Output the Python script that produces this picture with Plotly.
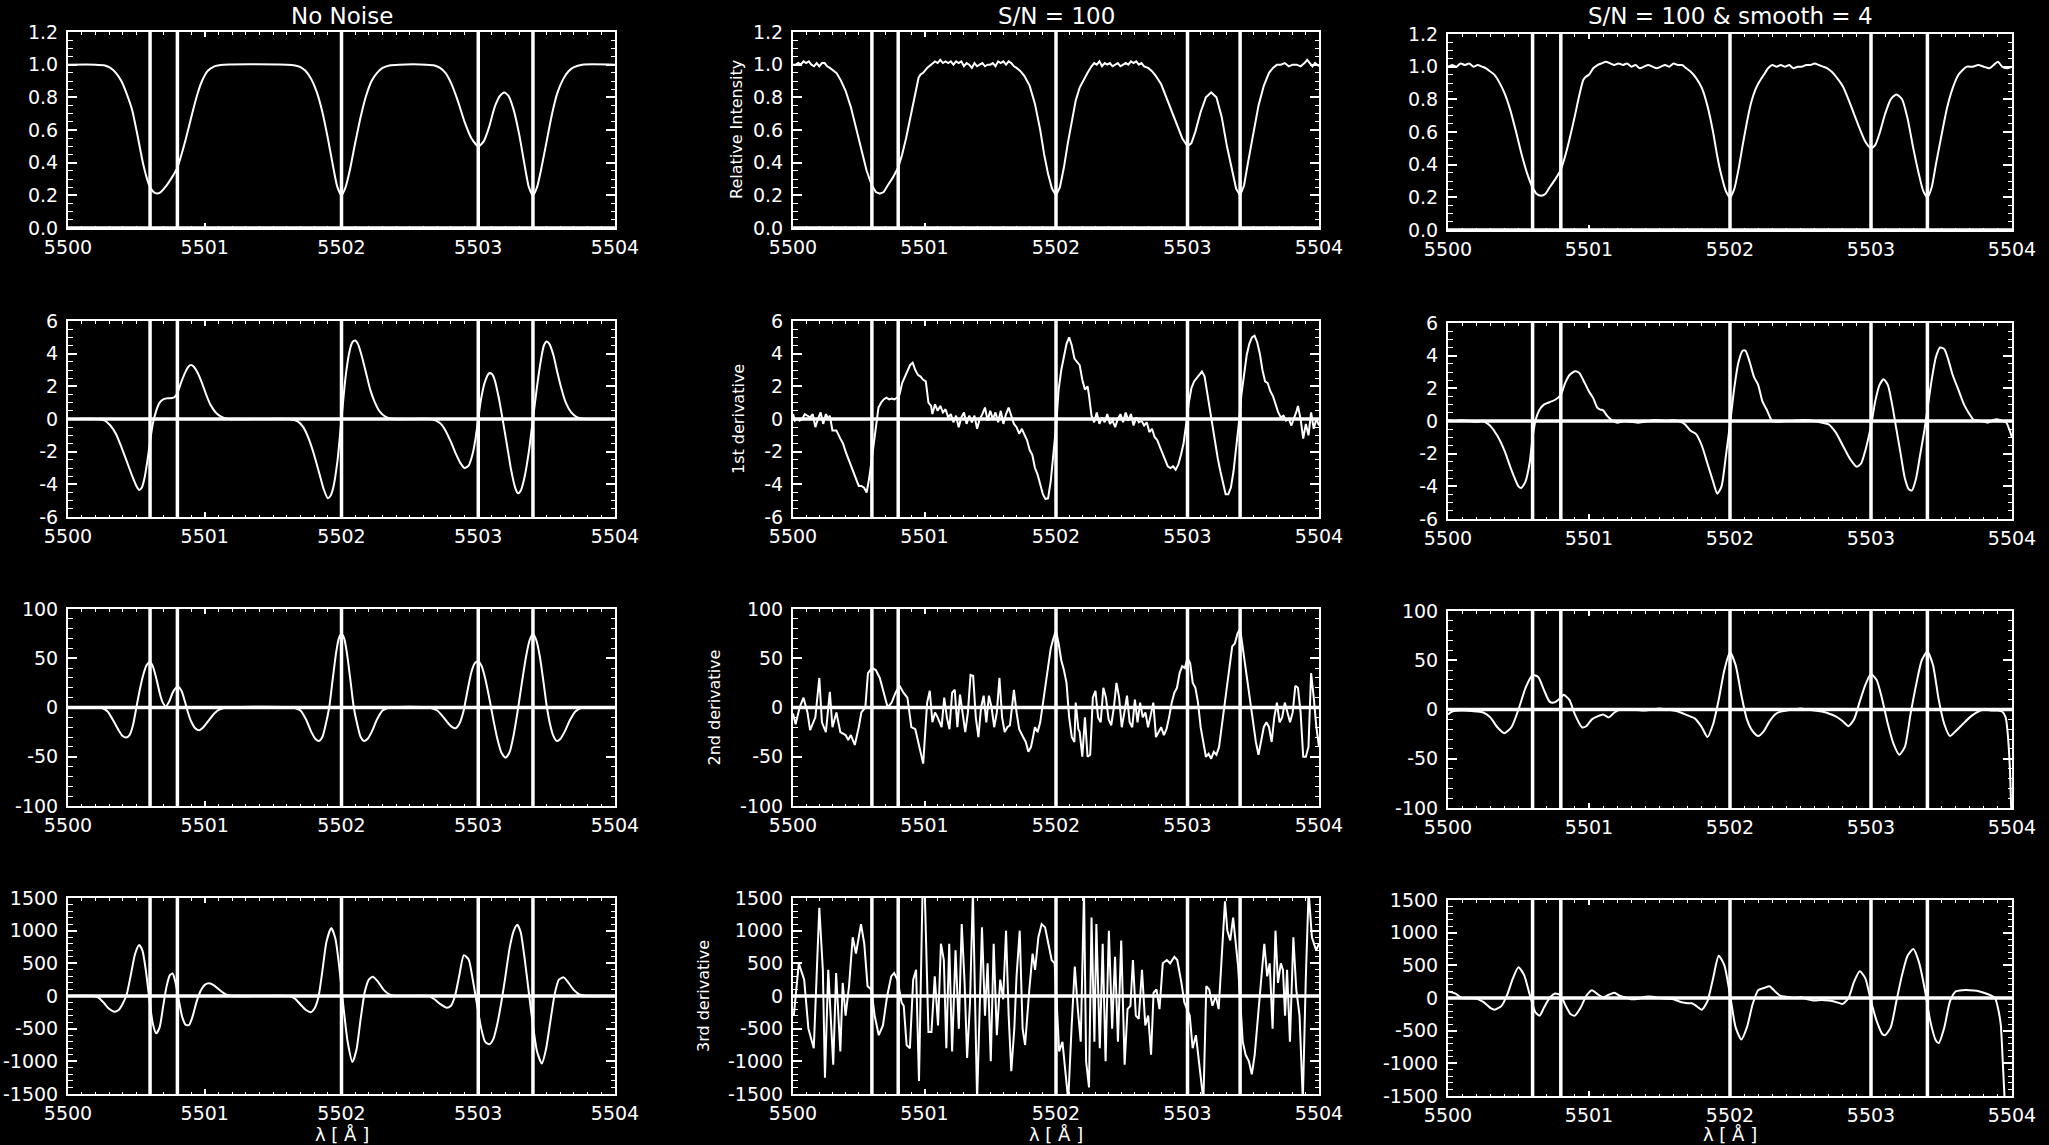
import plotly.graph_objects as go

# ---------------------------------------------------------------------------
# Wavelength grid offsets are measured from LAMBDA0 (Angstrom)
LAMBDA0 = 5500.0
line_centres = [5500.6, 5500.8, 5502.0, 5503.0, 5503.4]

column_titles = ["No Noise", "S/N = 100", "S/N = 100 & smooth = 4"]
row_titles = ["Relative Intensity", "1st derivative", "2nd derivative", "3rd derivative"]
x_label = "λ [ Å ]"

x_tickvals = [5500, 5501, 5502, 5503, 5504]
x_ticktext = ["5500", "5501", "5502", "5503", "5504"]

row_ranges = [[0.0, 1.2], [-6, 6], [-100, 100], [-1500, 1500]]
row_tickvals = [
    [0.0, 0.2, 0.4, 0.6, 0.8, 1.0, 1.2],
    [-6, -4, -2, 0, 2, 4, 6],
    [-100, -50, 0, 50, 100],
    [-1500, -1000, -500, 0, 500, 1000, 1500],
]
row_ticktext = [
    ["0.0", "0.2", "0.4", "0.6", "0.8", "1.0", "1.2"],
    ["-6", "-4", "-2", "0", "2", "4", "6"],
    ["-100", "-50", "0", "50", "100"],
    ["-1500", "-1000", "-500", "0", "500", "1000", "1500"],
]
row_minor = [0.05, 0.5, 10, 100]

# ---------------------------------------------------------------------------
# Noise-free spectrum and its derivatives: (offset from LAMBDA0, value)
clean_intensity = [
    (0.00, 1.00), (0.20, 1.00), (0.27, 0.995), (0.31, 0.98), (0.35, 0.95), (0.39, 0.90),
    (0.43, 0.82), (0.47, 0.72), (0.51, 0.56), (0.55, 0.39), (0.59, 0.27), (0.62, 0.225),
    (0.645, 0.212), (0.67, 0.215), (0.72, 0.26), (0.76, 0.31), (0.80, 0.37), (0.83, 0.45),
    (0.86, 0.54), (0.89, 0.64), (0.92, 0.74), (0.95, 0.83), (0.98, 0.90), (1.02, 0.96),
    (1.07, 0.99), (1.14, 1.00), (1.60, 1.00), (1.66, 0.995), (1.70, 0.985), (1.74, 0.96),
    (1.78, 0.91), (1.82, 0.83), (1.86, 0.71), (1.90, 0.55), (1.94, 0.37), (1.97, 0.25),
    (2.00, 0.20), (2.03, 0.25), (2.06, 0.35), (2.10, 0.52), (2.14, 0.68), (2.18, 0.81),
    (2.22, 0.90), (2.26, 0.95), (2.30, 0.98), (2.35, 0.995), (2.42, 1.00), (2.62, 1.00),
    (2.68, 0.995), (2.72, 0.98), (2.76, 0.95), (2.80, 0.89), (2.85, 0.78), (2.90, 0.65),
    (2.95, 0.55), (3.00, 0.50), (3.04, 0.53), (3.08, 0.62), (3.12, 0.74), (3.16, 0.81),
    (3.19, 0.83), (3.22, 0.81), (3.26, 0.72), (3.30, 0.57), (3.34, 0.38), (3.37, 0.25),
    (3.40, 0.20), (3.43, 0.25), (3.46, 0.36), (3.50, 0.53), (3.54, 0.70), (3.58, 0.83),
    (3.62, 0.91), (3.66, 0.96), (3.70, 0.985), (3.76, 1.00), (4.00, 1.00),
]

clean_d1 = [
    (0.00, 0), (0.22, 0), (0.27, -0.1), (0.31, -0.4), (0.35, -0.9), (0.39, -1.7), (0.43, -2.6),
    (0.47, -3.5), (0.50, -4.1), (0.52, -4.35), (0.54, -4.2), (0.56, -3.6), (0.58, -2.6),
    (0.60, -1.4), (0.62, -0.3), (0.645, 0.5), (0.67, 1.0), (0.70, 1.22), (0.73, 1.27),
    (0.76, 1.28), (0.78, 1.35), (0.80, 1.6), (0.83, 2.3), (0.86, 2.9), (0.88, 3.2), (0.90, 3.3),
    (0.92, 3.2), (0.95, 2.8), (0.98, 2.2), (1.01, 1.5), (1.04, 0.9), (1.08, 0.4), (1.12, 0.15),
    (1.17, 0.0), (1.62, 0), (1.68, -0.15), (1.72, -0.5), (1.76, -1.2), (1.80, -2.2), (1.84, -3.4),
    (1.87, -4.3), (1.90, -4.85), (1.92, -4.7), (1.94, -4.2), (1.97, -2.6), (2.00, 0.0),
    (2.03, 2.6), (2.06, 4.2), (2.08, 4.7), (2.10, 4.8), (2.12, 4.6), (2.15, 3.8), (2.18, 2.8),
    (2.21, 1.8), (2.24, 1.1), (2.28, 0.45), (2.32, 0.15), (2.38, 0.0), (2.66, 0), (2.72, -0.25),
    (2.76, -0.7), (2.80, -1.4), (2.84, -2.2), (2.87, -2.7), (2.90, -3.0), (2.93, -2.85),
    (2.96, -2.1), (2.98, -1.2), (3.00, 0.0), (3.02, 1.2), (3.05, 2.3), (3.08, 2.8), (3.10, 2.75),
    (3.12, 2.4), (3.15, 1.3), (3.18, -0.1), (3.21, -1.6), (3.24, -3.1), (3.27, -4.2),
    (3.29, -4.55), (3.31, -4.4), (3.34, -3.5), (3.37, -2.0), (3.40, 0.0), (3.43, 2.0),
    (3.46, 3.7), (3.48, 4.5), (3.50, 4.75), (3.52, 4.6), (3.55, 3.9), (3.58, 2.8), (3.61, 1.8),
    (3.64, 1.0), (3.68, 0.4), (3.72, 0.12), (3.78, 0.0), (4.00, 0),
]

clean_d2 = [
    (0.00, 0), (0.24, 0), (0.29, -4), (0.33, -13), (0.37, -23), (0.40, -29), (0.425, -30.5),
    (0.45, -28), (0.475, -18), (0.50, 0), (0.525, 18), (0.55, 33), (0.575, 43), (0.60, 46),
    (0.62, 42), (0.645, 30), (0.67, 15), (0.69, 6), (0.715, 1), (0.74, 6), (0.765, 15),
    (0.79, 20), (0.805, 21), (0.83, 17), (0.855, 6), (0.875, -4), (0.90, -14), (0.93, -21),
    (0.96, -23), (0.99, -20), (1.03, -13), (1.07, -6), (1.11, -2), (1.16, 0), (1.64, 0),
    (1.70, -3), (1.74, -12), (1.78, -25), (1.81, -32), (1.835, -34), (1.86, -30), (1.885, -17),
    (1.91, 0), (1.935, 28), (1.96, 55), (1.98, 70), (2.00, 74.5), (2.02, 70), (2.04, 55),
    (2.065, 28), (2.09, 0), (2.115, -17), (2.14, -30), (2.165, -34), (2.19, -32), (2.22, -25),
    (2.26, -12), (2.30, -3), (2.36, 0), (2.64, 0), (2.70, -3), (2.74, -9), (2.78, -16),
    (2.81, -20), (2.835, -21), (2.86, -17), (2.89, -5), (2.92, 16), (2.95, 36), (2.975, 45),
    (3.00, 47), (3.025, 42), (3.05, 30), (3.08, 10), (3.11, -12), (3.14, -32), (3.17, -46),
    (3.20, -51), (3.23, -45), (3.26, -27), (3.29, -2), (3.32, 26), (3.35, 52), (3.375, 68),
    (3.40, 74.5), (3.425, 68), (3.45, 52), (3.475, 28), (3.50, 2), (3.525, -17), (3.55, -29),
    (3.575, -34), (3.60, -32), (3.63, -25), (3.67, -13), (3.71, -4), (3.76, 0), (4.00, 0),
]

clean_d3 = [
    (0.00, 0), (0.18, 0), (0.22, -20), (0.26, -100), (0.30, -195), (0.34, -240), (0.37, -215),
    (0.40, -120), (0.43, 30), (0.46, 330), (0.49, 640), (0.52, 780), (0.545, 690), (0.57, 380),
    (0.595, -50), (0.62, -420), (0.645, -570), (0.67, -480), (0.695, -170), (0.72, 140),
    (0.745, 320), (0.765, 345), (0.785, 220), (0.81, -60), (0.835, -320), (0.86, -440),
    (0.885, -445), (0.91, -320), (0.94, -90), (0.97, 80), (1.00, 170), (1.03, 195), (1.07, 160),
    (1.11, 90), (1.15, 30), (1.20, 0), (1.62, 0), (1.66, -40), (1.70, -130), (1.74, -215),
    (1.775, -250), (1.80, -200), (1.83, -30), (1.86, 380), (1.89, 830), (1.925, 1040),
    (1.955, 880), (1.985, 420), (2.015, -180), (2.045, -700), (2.08, -1010), (2.11, -820),
    (2.14, -350), (2.17, 60), (2.20, 250), (2.23, 295), (2.27, 210), (2.31, 90), (2.35, 25),
    (2.40, 0), (2.64, 0), (2.68, -50), (2.72, -120), (2.77, -180), (2.80, -150), (2.83, 0),
    (2.86, 300), (2.895, 625), (2.93, 560), (2.96, 250), (2.99, -120), (3.02, -480),
    (3.05, -700), (3.08, -740), (3.11, -660), (3.14, -420), (3.17, -80), (3.20, 320),
    (3.23, 740), (3.26, 1000), (3.285, 1090), (3.31, 980), (3.34, 560), (3.37, 50),
    (3.40, -450), (3.43, -850), (3.465, -1035), (3.495, -820), (3.53, -350), (3.56, 40),
    (3.59, 250), (3.625, 285), (3.66, 200), (3.70, 90), (3.74, 25), (3.80, 0), (4.00, 0),
]

# ---------------------------------------------------------------------------
# Spectrum with S/N = 100 and its (noisy) derivatives
noisy_intensity = [
    (0.00, 1.00), (0.02, 1.00), (0.04, 1.01), (0.06, 1.00), (0.08, 1.02), (0.10, 1.01),
    (0.12, 1.02), (0.14, 1.00), (0.16, 0.99), (0.18, 1.01), (0.20, 0.99), (0.22, 1.01),
    (0.24, 1.01), (0.26, 0.99), (0.28, 0.98), (0.30, 0.97), (0.33, 0.95), (0.36, 0.91),
    (0.40, 0.84), (0.44, 0.74), (0.48, 0.61), (0.52, 0.47), (0.56, 0.35), (0.60, 0.26),
    (0.63, 0.22), (0.66, 0.21), (0.69, 0.22), (0.72, 0.26), (0.76, 0.31), (0.80, 0.37),
    (0.83, 0.45), (0.86, 0.55), (0.90, 0.70), (0.93, 0.82), (0.955, 0.92), (0.97, 0.94),
    (0.99, 0.95), (1.02, 0.98), (1.05, 1.00), (1.08, 1.02), (1.10, 1.01), (1.12, 1.03),
    (1.14, 1.01), (1.16, 1.02), (1.18, 1.01), (1.20, 1.02), (1.22, 1.00), (1.24, 1.02),
    (1.26, 1.01), (1.28, 1.02), (1.30, 0.99), (1.32, 1.01), (1.34, 1.00), (1.36, 0.98),
    (1.38, 1.01), (1.40, 0.99), (1.42, 1.00), (1.44, 1.01), (1.46, 0.99), (1.48, 1.00),
    (1.50, 1.00), (1.52, 1.01), (1.54, 0.99), (1.56, 1.02), (1.58, 1.01), (1.60, 1.02),
    (1.62, 1.00), (1.64, 1.02), (1.66, 1.01), (1.68, 0.99), (1.70, 0.98), (1.73, 0.96),
    (1.76, 0.93), (1.80, 0.87), (1.84, 0.76), (1.88, 0.60), (1.91, 0.45), (1.94, 0.33),
    (1.97, 0.24), (2.00, 0.20), (2.03, 0.25), (2.06, 0.37), (2.09, 0.52), (2.12, 0.66),
    (2.15, 0.78), (2.18, 0.86), (2.21, 0.91), (2.24, 0.95), (2.27, 0.99), (2.29, 1.01),
    (2.31, 1.00), (2.33, 1.02), (2.35, 0.99), (2.37, 1.01), (2.39, 1.00), (2.41, 1.01),
    (2.43, 0.99), (2.45, 1.00), (2.47, 1.01), (2.49, 0.99), (2.51, 1.00), (2.53, 1.01),
    (2.55, 1.00), (2.57, 1.02), (2.59, 1.01), (2.61, 1.02), (2.63, 1.00), (2.65, 1.01),
    (2.67, 0.99), (2.70, 0.98), (2.73, 0.96), (2.76, 0.93), (2.80, 0.88), (2.84, 0.80),
    (2.88, 0.72), (2.92, 0.63), (2.96, 0.55), (3.00, 0.50), (3.03, 0.52), (3.06, 0.59),
    (3.10, 0.71), (3.14, 0.80), (3.18, 0.83), (3.22, 0.80), (3.26, 0.68), (3.30, 0.50),
    (3.34, 0.34), (3.37, 0.24), (3.40, 0.20), (3.43, 0.26), (3.46, 0.40), (3.50, 0.58),
    (3.54, 0.75), (3.58, 0.87), (3.62, 0.95), (3.65, 0.98), (3.68, 1.00), (3.71, 1.00),
    (3.74, 1.01), (3.77, 0.99), (3.80, 1.00), (3.83, 1.00), (3.86, 0.99), (3.89, 1.01),
    (3.91, 1.03), (3.93, 1.01), (3.95, 0.99), (3.97, 1.01), (4.00, 0.99),
]

noisy_d1 = [
    (0.00, 0.3), (0.015, -0.1), (0.03, 0.0), (0.05, -0.1), (0.07, 0.0), (0.09, 0.3), (0.11, 0.2),
    (0.13, 0.1), (0.15, 0.3), (0.17, -0.5), (0.19, 0.0), (0.21, 0.4), (0.23, -0.3), (0.25, 0.3),
    (0.27, 0.0), (0.28, 0.2), (0.30, -0.7), (0.33, -0.7), (0.36, -1.2), (0.38, -1.5),
    (0.40, -2.0), (0.42, -2.4), (0.44, -2.8), (0.46, -3.2), (0.48, -3.6), (0.50, -4.1),
    (0.52, -4.1), (0.54, -4.2), (0.56, -4.5), (0.58, -3.6), (0.60, -2.4), (0.62, -1.0),
    (0.635, 0.0), (0.65, 0.7), (0.67, 1.0), (0.69, 1.2), (0.71, 1.3), (0.73, 1.2), (0.75, 1.25),
    (0.77, 1.2), (0.79, 1.3), (0.81, 1.5), (0.83, 2.2), (0.85, 2.6), (0.87, 2.9), (0.89, 3.3),
    (0.91, 3.45), (0.93, 3.0), (0.95, 2.7), (0.97, 2.6), (0.99, 2.4), (1.01, 2.3), (1.03, 1.0),
    (1.05, 0.8), (1.06, 0.3), (1.08, 0.9), (1.10, 0.5), (1.12, 0.8), (1.14, 0.4), (1.16, 0.6),
    (1.18, 0.1), (1.20, 0.3), (1.22, -0.2), (1.24, 0.2), (1.26, -0.5), (1.28, 0.1), (1.30, 0.4),
    (1.32, -0.3), (1.34, 0.2), (1.36, -0.2), (1.38, 0.2), (1.40, -0.6), (1.42, 0.0), (1.44, 0.3),
    (1.46, 0.7), (1.48, -0.1), (1.50, 0.5), (1.52, 0.0), (1.54, 0.4), (1.56, -0.2), (1.58, 0.5),
    (1.60, -0.3), (1.62, 0.3), (1.64, 0.7), (1.66, 0.2), (1.68, -0.3), (1.70, -0.5), (1.72, -0.9),
    (1.74, -0.6), (1.76, -1.0), (1.78, -1.3), (1.80, -1.9), (1.82, -2.2), (1.84, -3.0),
    (1.86, -3.4), (1.88, -4.0), (1.90, -4.6), (1.92, -4.9), (1.94, -4.85), (1.96, -3.8),
    (1.98, -2.2), (2.00, -0.5), (2.02, 1.8), (2.04, 3.0), (2.06, 3.8), (2.08, 4.6), (2.10, 5.0),
    (2.12, 4.5), (2.14, 3.7), (2.16, 3.5), (2.18, 3.3), (2.20, 2.4), (2.22, 1.8), (2.24, 2.0),
    (2.25, 1.5), (2.27, 0.2), (2.29, -0.2), (2.31, 0.4), (2.33, -0.3), (2.35, 0.1), (2.37, -0.2),
    (2.39, 0.3), (2.41, -0.3), (2.43, -0.1), (2.45, -0.5), (2.47, 0.0), (2.49, 0.3), (2.51, -0.2),
    (2.53, 0.4), (2.55, -0.1), (2.57, 0.3), (2.59, -0.4), (2.61, 0.1), (2.63, -0.2), (2.65, -0.1),
    (2.67, -0.4), (2.69, -0.2), (2.71, -0.8), (2.73, -0.6), (2.75, -1.1), (2.77, -1.3),
    (2.79, -1.7), (2.81, -2.1), (2.83, -2.5), (2.85, -2.9), (2.87, -3.0), (2.89, -2.9),
    (2.91, -3.1), (2.93, -2.8), (2.95, -2.2), (2.97, -1.5), (2.99, -0.3), (3.01, 1.0),
    (3.03, 1.9), (3.05, 2.3), (3.07, 2.5), (3.09, 2.7), (3.11, 2.9), (3.13, 2.6), (3.15, 1.6),
    (3.17, 0.5), (3.19, -0.6), (3.21, -1.6), (3.23, -2.4), (3.25, -3.2), (3.27, -4.0),
    (3.29, -4.6), (3.31, -4.6), (3.33, -4.2), (3.35, -3.2), (3.37, -1.8), (3.39, -0.3),
    (3.41, 1.5), (3.43, 2.9), (3.45, 3.9), (3.47, 4.6), (3.49, 5.0), (3.51, 5.1), (3.53, 4.7),
    (3.55, 4.0), (3.57, 3.0), (3.59, 2.3), (3.61, 2.2), (3.63, 1.7), (3.65, 1.4), (3.67, 0.9),
    (3.69, 0.4), (3.71, 0.1), (3.73, 0.2), (3.75, -0.1), (3.77, 0.0), (3.79, -0.4), (3.81, 0.0),
    (3.83, 0.5), (3.84, 0.8), (3.86, 0.0), (3.88, -1.2), (3.90, -0.3), (3.92, -1.0), (3.94, 0.4),
    (3.96, -0.6), (3.98, 0.0), (4.00, -0.4),
]

noisy_d2 = [
    (0.00, -6), (0.02, -17), (0.05, 0), (0.08, 10), (0.11, -5), (0.13, -23), (0.17, -10),
    (0.20, 30), (0.22, -15), (0.25, -25), (0.28, 16), (0.30, -20), (0.33, -5), (0.36, -25),
    (0.40, -28), (0.42, -33), (0.44, -28), (0.47, -38), (0.50, -20), (0.52, -5), (0.55, 0),
    (0.57, 35), (0.60, 40), (0.63, 38), (0.66, 30), (0.70, 10), (0.72, 0), (0.75, 5), (0.78, 15),
    (0.81, 22), (0.84, 15), (0.87, 10), (0.90, -20), (0.93, -22), (0.96, -40), (0.99, -57),
    (1.02, 5), (1.04, 17), (1.06, -15), (1.08, -5), (1.10, -10), (1.13, -20), (1.15, 10),
    (1.17, -10), (1.19, -22), (1.21, 15), (1.23, 18), (1.25, -20), (1.27, 13), (1.29, -5),
    (1.31, -25), (1.33, -5), (1.35, 33), (1.37, 32), (1.39, -10), (1.41, -30), (1.43, 0),
    (1.45, 12), (1.47, -15), (1.49, 12), (1.51, 0), (1.53, -20), (1.55, -5), (1.57, 30),
    (1.59, -10), (1.61, -25), (1.63, -20), (1.65, -18), (1.68, 18), (1.70, -5), (1.72, -22),
    (1.75, -30), (1.77, -35), (1.79, -45), (1.81, -40), (1.84, -20), (1.86, -25), (1.88, -15),
    (1.90, 5), (1.92, 25), (1.94, 45), (1.96, 60), (1.98, 70), (2.00, 78), (2.02, 65),
    (2.04, 48), (2.06, 38), (2.08, 25), (2.10, -10), (2.12, -30), (2.14, -35), (2.15, 5),
    (2.17, -22), (2.18, -25), (2.20, -50), (2.22, -10), (2.24, -50), (2.26, -48), (2.28, 10),
    (2.30, 17), (2.32, -10), (2.34, -15), (2.36, 20), (2.38, 10), (2.40, -12), (2.42, -18),
    (2.44, 0), (2.46, 25), (2.48, 10), (2.50, -20), (2.52, -5), (2.54, 12), (2.56, -15),
    (2.58, -20), (2.60, 8), (2.62, -15), (2.64, 5), (2.66, -10), (2.68, -5), (2.70, -20),
    (2.72, -8), (2.74, 5), (2.76, -30), (2.78, -25), (2.80, -20), (2.82, -28), (2.84, -22),
    (2.86, -10), (2.88, 5), (2.90, 15), (2.92, 20), (2.94, 35), (2.96, 42), (2.98, 40),
    (3.00, 50), (3.02, 45), (3.04, 25), (3.06, 20), (3.08, 5), (3.10, -20), (3.12, -35),
    (3.14, -50), (3.16, -47), (3.18, -52), (3.20, -45), (3.22, -48), (3.24, -40), (3.26, -20),
    (3.28, 0), (3.30, 20), (3.32, 45), (3.34, 62), (3.36, 65), (3.38, 75), (3.40, 80),
    (3.42, 60), (3.44, 40), (3.46, 20), (3.48, 0), (3.50, -20), (3.52, -35), (3.54, -48),
    (3.56, -35), (3.58, -20), (3.60, -15), (3.62, -20), (3.64, -35), (3.66, -10), (3.68, 5),
    (3.70, -15), (3.72, -10), (3.74, 5), (3.76, -5), (3.78, -15), (3.80, -5), (3.82, 22),
    (3.84, 20), (3.86, -5), (3.88, -50), (3.90, -50), (3.92, -40), (3.94, 35), (3.96, 10),
    (3.98, -20), (4.00, -40),
]

noisy_d3 = [
    (0.006, -300), (0.044, 500), (0.085, 250), (0.117, -500), (0.158, -800), (0.200, 1350),
    (0.227, 400), (0.243, -1250), (0.268, 400), (0.284, -300), (0.306, -1050), (0.328, 350),
    (0.347, -300), (0.360, -850), (0.378, 200), (0.400, -300), (0.426, 150), (0.454, 900),
    (0.479, 650), (0.517, 1100), (0.542, 800), (0.567, 150), (0.596, 100), (0.621, -300),
    (0.652, -600), (0.684, -450), (0.716, 0), (0.747, 300), (0.769, 350), (0.794, 250),
    (0.826, -100), (0.842, -150), (0.864, -750), (0.889, -800), (0.914, 250), (0.936, 400),
    (0.958, -1300), (0.985, 1600), (1.002, 1600), (1.030, -550), (1.053, -550), (1.078, 300),
    (1.103, -450), (1.125, 800), (1.147, 550), (1.166, -800), (1.188, 800), (1.210, -850),
    (1.236, 700), (1.261, -500), (1.283, 1100), (1.305, 200), (1.324, -950), (1.346, -100),
    (1.368, 1600), (1.400, -1600), (1.437, 1050), (1.460, -300), (1.480, 500), (1.504, -1000),
    (1.526, 800), (1.550, -600), (1.576, 250), (1.598, -50), (1.620, 1000), (1.640, -300),
    (1.660, -1150), (1.683, -500), (1.700, 300), (1.724, 1000), (1.746, -500), (1.765, -750),
    (1.797, 100), (1.822, 650), (1.841, 400), (1.866, 900), (1.891, 1100), (1.917, 1050),
    (1.942, 800), (1.967, 550), (1.990, 500), (2.024, -850), (2.049, -700), (2.071, -1100),
    (2.093, -1600), (2.118, -500), (2.143, 450), (2.166, -200), (2.188, -700), (2.213, 1600),
    (2.229, -1000), (2.251, -1400), (2.270, 1200), (2.292, -700), (2.307, 1100), (2.333, -800),
    (2.355, 800), (2.377, -1000), (2.402, 1000), (2.427, -500), (2.449, 600), (2.471, -700),
    (2.496, 850), (2.522, -1050), (2.544, -200), (2.566, -150), (2.585, 550), (2.607, -300),
    (2.629, -350), (2.654, 400), (2.679, -450), (2.701, -300), (2.723, -900), (2.742, 50),
    (2.764, 100), (2.787, -200), (2.812, 500), (2.843, 550), (2.868, 500), (2.900, 600),
    (2.922, 550), (2.954, 200), (2.976, -100), (3.017, -300), (3.039, -800), (3.064, -600),
    (3.089, -1000), (3.121, -1600), (3.143, 150), (3.165, 100), (3.190, -150), (3.215, 0),
    (3.237, -200), (3.259, 600), (3.285, 1450), (3.303, 1000), (3.325, 850), (3.347, 1200),
    (3.366, 800), (3.385, 450), (3.420, -700), (3.442, -900), (3.467, -1000), (3.489, -1200),
    (3.511, -900), (3.537, -300), (3.562, 400), (3.584, 800), (3.606, 300), (3.625, 500),
    (3.647, -500), (3.669, 1000), (3.688, 200), (3.710, 500), (3.726, 400), (3.742, -300),
    (3.757, 400), (3.779, -700), (3.805, 900), (3.827, 100), (3.852, -300), (3.877, -1600),
    (3.900, 300), (3.921, 1600), (3.946, 900), (3.978, 700), (4.000, 800),
]

# ---------------------------------------------------------------------------
# Noisy spectrum after a 4-pixel boxcar smooth, and its derivatives
smooth_intensity = [
    (0.00, 1.00), (0.03, 1.01), (0.06, 1.00), (0.09, 1.02), (0.12, 1.01), (0.15, 1.02),
    (0.18, 1.00), (0.21, 1.01), (0.24, 1.00), (0.27, 0.99), (0.30, 0.97), (0.33, 0.95),
    (0.36, 0.91), (0.40, 0.84), (0.44, 0.74), (0.48, 0.61), (0.52, 0.47), (0.56, 0.35),
    (0.60, 0.26), (0.63, 0.22), (0.66, 0.21), (0.69, 0.22), (0.72, 0.26), (0.76, 0.31),
    (0.80, 0.37), (0.83, 0.45), (0.86, 0.55), (0.90, 0.70), (0.93, 0.82), (0.96, 0.92),
    (0.98, 0.94), (1.00, 0.95), (1.03, 0.99), (1.06, 1.01), (1.09, 1.02), (1.12, 1.03),
    (1.15, 1.02), (1.18, 1.01), (1.21, 1.02), (1.24, 1.01), (1.27, 1.02), (1.30, 1.00),
    (1.33, 1.01), (1.36, 0.99), (1.39, 1.00), (1.42, 1.01), (1.45, 1.00), (1.48, 0.99),
    (1.51, 1.00), (1.54, 1.01), (1.57, 1.00), (1.60, 1.02), (1.63, 1.01), (1.66, 1.01),
    (1.69, 0.99), (1.72, 0.97), (1.76, 0.93), (1.80, 0.87), (1.84, 0.76), (1.88, 0.60),
    (1.91, 0.45), (1.94, 0.33), (1.97, 0.24), (2.00, 0.20), (2.03, 0.25), (2.06, 0.37),
    (2.09, 0.52), (2.12, 0.66), (2.15, 0.78), (2.18, 0.86), (2.21, 0.91), (2.24, 0.95),
    (2.27, 0.99), (2.30, 1.01), (2.33, 1.00), (2.36, 1.01), (2.39, 1.00), (2.42, 1.01),
    (2.45, 0.99), (2.48, 1.00), (2.51, 1.00), (2.54, 1.01), (2.57, 1.01), (2.60, 1.02),
    (2.63, 1.01), (2.66, 1.00), (2.69, 0.99), (2.72, 0.97), (2.76, 0.93), (2.80, 0.88),
    (2.84, 0.80), (2.88, 0.71), (2.92, 0.62), (2.96, 0.54), (3.00, 0.50), (3.03, 0.52),
    (3.06, 0.59), (3.10, 0.71), (3.14, 0.80), (3.18, 0.83), (3.22, 0.80), (3.26, 0.68),
    (3.30, 0.50), (3.34, 0.34), (3.37, 0.24), (3.40, 0.20), (3.43, 0.26), (3.46, 0.40),
    (3.50, 0.58), (3.54, 0.75), (3.58, 0.87), (3.62, 0.95), (3.65, 0.98), (3.68, 1.00),
    (3.72, 1.00), (3.76, 1.01), (3.80, 1.00), (3.84, 0.99), (3.87, 1.01), (3.90, 1.03),
    (3.93, 1.00), (3.96, 0.99), (4.00, 1.00),
]

smooth_d1 = [
    (0.00, 0.05), (0.05, 0.0), (0.10, 0.05), (0.15, 0.0), (0.20, -0.05), (0.24, 0.0),
    (0.27, -0.1), (0.30, -0.3), (0.35, -0.9), (0.40, -1.8), (0.45, -3.0), (0.50, -4.0),
    (0.52, -4.1), (0.55, -3.7), (0.58, -2.5), (0.60, -1.0), (0.62, 0.0), (0.65, 0.7),
    (0.68, 1.0), (0.72, 1.15), (0.76, 1.3), (0.80, 1.6), (0.83, 2.3), (0.86, 2.8), (0.90, 3.05),
    (0.93, 2.95), (0.96, 2.5), (1.00, 1.8), (1.03, 1.4), (1.06, 0.8), (1.08, 0.7), (1.10, 0.65),
    (1.13, 0.3), (1.17, 0.0), (1.20, -0.1), (1.25, 0.0), (1.30, -0.05), (1.35, -0.1),
    (1.40, -0.05), (1.45, 0.05), (1.50, 0.05), (1.55, 0.0), (1.60, 0.05), (1.65, -0.05),
    (1.68, -0.2), (1.72, -0.6), (1.76, -0.8), (1.80, -1.5), (1.84, -2.6), (1.88, -3.7),
    (1.91, -4.45), (1.94, -4.0), (1.97, -2.2), (2.00, -0.2), (2.03, 2.0), (2.06, 3.6),
    (2.09, 4.3), (2.11, 4.3), (2.14, 3.6), (2.17, 2.7), (2.20, 2.2), (2.23, 1.2), (2.26, 0.7),
    (2.30, 0.0), (2.35, -0.05), (2.40, 0.0), (2.45, 0.0), (2.50, 0.05), (2.55, 0.05),
    (2.60, 0.0), (2.65, -0.1), (2.70, -0.2), (2.75, -0.7), (2.80, -1.5), (2.85, -2.3),
    (2.90, -2.8), (2.93, -2.6), (2.96, -1.8), (3.00, -0.3), (3.03, 1.2), (3.06, 2.2),
    (3.09, 2.55), (3.12, 2.2), (3.15, 1.0), (3.18, -0.5), (3.21, -2.0), (3.24, -3.5),
    (3.27, -4.2), (3.29, -4.25), (3.32, -3.5), (3.35, -2.0), (3.38, -0.5), (3.40, 0.7),
    (3.43, 2.5), (3.46, 3.9), (3.49, 4.5), (3.52, 4.4), (3.55, 3.7), (3.58, 2.8), (3.62, 1.9),
    (3.66, 1.0), (3.70, 0.4), (3.73, 0.05), (3.78, 0.0), (3.83, -0.1), (3.88, 0.1),
    (3.92, 0.05), (3.96, -0.1), (3.98, -0.5), (4.00, -1.0),
]

smooth_d2 = [
    (0.00, -5), (0.03, -2), (0.10, -1), (0.20, -2), (0.25, -3), (0.30, -8), (0.35, -18),
    (0.40, -24), (0.45, -18), (0.50, 0), (0.55, 22), (0.60, 35), (0.64, 33), (0.68, 20),
    (0.72, 8), (0.75, 7), (0.80, 12), (0.82, 15), (0.86, 10), (0.90, -5), (0.95, -18),
    (0.98, -17), (1.02, -10), (1.06, -7), (1.10, -5), (1.14, -8), (1.18, -3), (1.22, 0),
    (1.30, 0), (1.40, -1), (1.45, 0), (1.50, 1), (1.55, 0), (1.60, -1), (1.65, -3), (1.70, -6),
    (1.75, -9), (1.80, -18), (1.84, -28), (1.88, -15), (1.92, 10), (1.96, 40), (2.00, 58),
    (2.04, 45), (2.08, 15), (2.12, -10), (2.16, -22), (2.20, -27), (2.24, -22), (2.28, -12),
    (2.32, -5), (2.36, -2), (2.40, -1), (2.45, 0), (2.50, 1), (2.55, 0), (2.60, -1), (2.65, -2),
    (2.70, -4), (2.75, -7), (2.80, -12), (2.84, -17), (2.88, -10), (2.92, 8), (2.96, 25),
    (3.00, 36), (3.04, 30), (3.08, 10), (3.12, -15), (3.16, -35), (3.20, -46), (3.24, -38),
    (3.28, -5), (3.32, 25), (3.36, 50), (3.40, 59), (3.44, 45), (3.48, 10), (3.52, -15),
    (3.56, -27), (3.60, -22), (3.65, -15), (3.70, -8), (3.75, -3), (3.80, 0), (3.85, -1),
    (3.90, -1), (3.93, -2), (3.955, -8), (3.97, -25), (3.985, -60), (3.995, -105),
]

smooth_d3 = [
    (0.00, 100), (0.05, 70), (0.10, 0), (0.15, -5), (0.20, -10), (0.25, -60), (0.30, -150),
    (0.33, -180), (0.38, -120), (0.42, 50), (0.46, 300), (0.50, 470), (0.54, 350), (0.58, 50),
    (0.62, -220), (0.65, -270), (0.68, -150), (0.72, 0), (0.76, 70), (0.80, 40), (0.83, -100),
    (0.87, -250), (0.90, -270), (0.94, -150), (0.98, 30), (1.02, 120), (1.06, 60), (1.10, 10),
    (1.14, 50), (1.18, 80), (1.22, 30), (1.26, 10), (1.30, -20), (1.35, -10), (1.40, 20),
    (1.45, 20), (1.50, 0), (1.55, -10), (1.60, -20), (1.65, -60), (1.70, -80), (1.73, -80),
    (1.76, -120), (1.80, -180), (1.84, -50), (1.88, 300), (1.92, 645), (1.96, 500), (2.00, 50),
    (2.04, -450), (2.08, -635), (2.12, -450), (2.16, -100), (2.20, 120), (2.25, 160),
    (2.28, 180), (2.32, 100), (2.36, 30), (2.40, 20), (2.45, 0), (2.50, 10), (2.55, -20),
    (2.60, -40), (2.65, -30), (2.70, -40), (2.75, -60), (2.80, -90), (2.84, 0), (2.88, 250),
    (2.92, 410), (2.96, 300), (3.00, -50), (3.04, -350), (3.08, -550), (3.10, -570),
    (3.14, -450), (3.18, -50), (3.22, 350), (3.26, 650), (3.30, 750), (3.34, 550), (3.38, 150),
    (3.42, -350), (3.46, -650), (3.48, -690), (3.52, -450), (3.56, -50), (3.60, 100),
    (3.65, 120), (3.70, 120), (3.75, 110), (3.80, 80), (3.85, 40), (3.88, 0), (3.90, -150),
    (3.92, -400), (3.935, -1000), (3.95, -1650),
]

# Grid of panels: rows = intensity and derivatives, columns = data treatment
panel_data = [
    [clean_intensity, noisy_intensity, smooth_intensity],
    [clean_d1, noisy_d1, smooth_d1],
    [clean_d2, noisy_d2, smooth_d2],
    [clean_d3, noisy_d3, smooth_d3],
]
column_shape = ["spline", "linear", "spline"]

# ---------------------------------------------------------------------------
W, H = 2049, 1145
col_px = [(68, 615), (793, 1319), (1448, 2012)]
row_px = [(32, 228), (321, 517), (609, 806), (898, 1094)]
col_dy = [0, 0, 2]
ytitle_px = [736, 738, 714, 703]

FONT = "DejaVu Sans"
WHITE = "#ffffff"

fig = go.Figure()
layout = dict(
    template="none",
    width=W, height=H, autosize=False,
    margin=dict(l=0, r=0, t=0, b=0, pad=0, autoexpand=False),
    paper_bgcolor="#000000", plot_bgcolor="#000000",
    showlegend=False,
    font=dict(family=FONT, color=WHITE, size=19),
)
shapes = []
annotations = []

for r in range(4):
    for c in range(3):
        i = r * 3 + c + 1
        xa = "xaxis" if i == 1 else f"xaxis{i}"
        ya = "yaxis" if i == 1 else f"yaxis{i}"
        xr = "x" if i == 1 else f"x{i}"
        yr = "y" if i == 1 else f"y{i}"
        x0, x1 = col_px[c]
        top, bot = row_px[r][0] + col_dy[c], row_px[r][1] + col_dy[c]

        layout[xa] = dict(
            domain=[x0 / W, x1 / W], anchor=yr, range=[5500, 5504], automargin=False,
            tickmode="array", tickvals=x_tickvals, ticktext=x_ticktext,
            ticks="inside", ticklen=5, tickwidth=1.5, tickcolor=WHITE,
            minor=dict(ticks="inside", dtick=0.1, ticklen=2.5, tickwidth=1, tickcolor=WHITE),
            showline=True, linecolor=WHITE, linewidth=2, mirror="ticks",
            showgrid=False, zeroline=False, fixedrange=True,
            tickfont=dict(family=FONT, size=19, color=WHITE), ticklabelstandoff=1,
        )
        layout[ya] = dict(
            domain=[1 - bot / H, 1 - top / H], anchor=xr, range=row_ranges[r], automargin=False,
            tickmode="array", tickvals=row_tickvals[r], ticktext=row_ticktext[r],
            ticks="inside", ticklen=9, tickwidth=1.5, tickcolor=WHITE,
            minor=dict(ticks="inside", dtick=row_minor[r], tick0=0, ticklen=4.5,
                       tickwidth=1, tickcolor=WHITE),
            showline=True, linecolor=WHITE, linewidth=2, mirror="ticks",
            showgrid=False, zeroline=False, fixedrange=True,
            tickfont=dict(family=FONT, size=19, color=WHITE), ticklabelstandoff=4,
        )

        pts = panel_data[r][c]
        fig.add_trace(go.Scatter(
            x=[LAMBDA0 + p[0] for p in pts], y=[p[1] for p in pts],
            mode="lines", xaxis=xr, yaxis=yr, hoverinfo="skip",
            line=dict(color=WHITE, width=2, shape=column_shape[c], smoothing=0.6),
        ))

        # line-centre markers and the zero level
        for lc in line_centres:
            shapes.append(dict(type="line", xref=xr, yref=f"{yr} domain",
                               x0=lc, x1=lc, y0=0, y1=1,
                               line=dict(color=WHITE, width=3.5)))
        shapes.append(dict(type="line", xref=f"{xr} domain", yref=yr,
                           x0=0, x1=1, y0=0, y1=0,
                           line=dict(color=WHITE, width=3.5)))

        if c == 1:
            annotations.append(dict(
                text=row_titles[r], xref="paper", yref="paper",
                x=ytitle_px[r] / W, y=1 - (top + bot) / 2 / H, textangle=-90,
                showarrow=False, xanchor="center", yanchor="middle",
                font=dict(family=FONT, size=16, color=WHITE)))
        if r == 0:
            annotations.append(dict(
                text=column_titles[c], xref="paper", yref="paper",
                x=(x0 + x1) / 2 / W, y=1 - 16 / H, showarrow=False,
                xanchor="center", yanchor="middle",
                font=dict(family=FONT, size=23, color=WHITE)))
        if r == 3:
            annotations.append(dict(
                text=x_label, xref="paper", yref="paper",
                x=(x0 + x1) / 2 / W, y=1 - 1134 / H, showarrow=False,
                xanchor="center", yanchor="middle",
                font=dict(family=FONT, size=18, color=WHITE)))

layout["shapes"] = shapes
layout["annotations"] = annotations
fig.update_layout(**layout)
fig.write_html("out.html", config={"displayModeBar": False})
